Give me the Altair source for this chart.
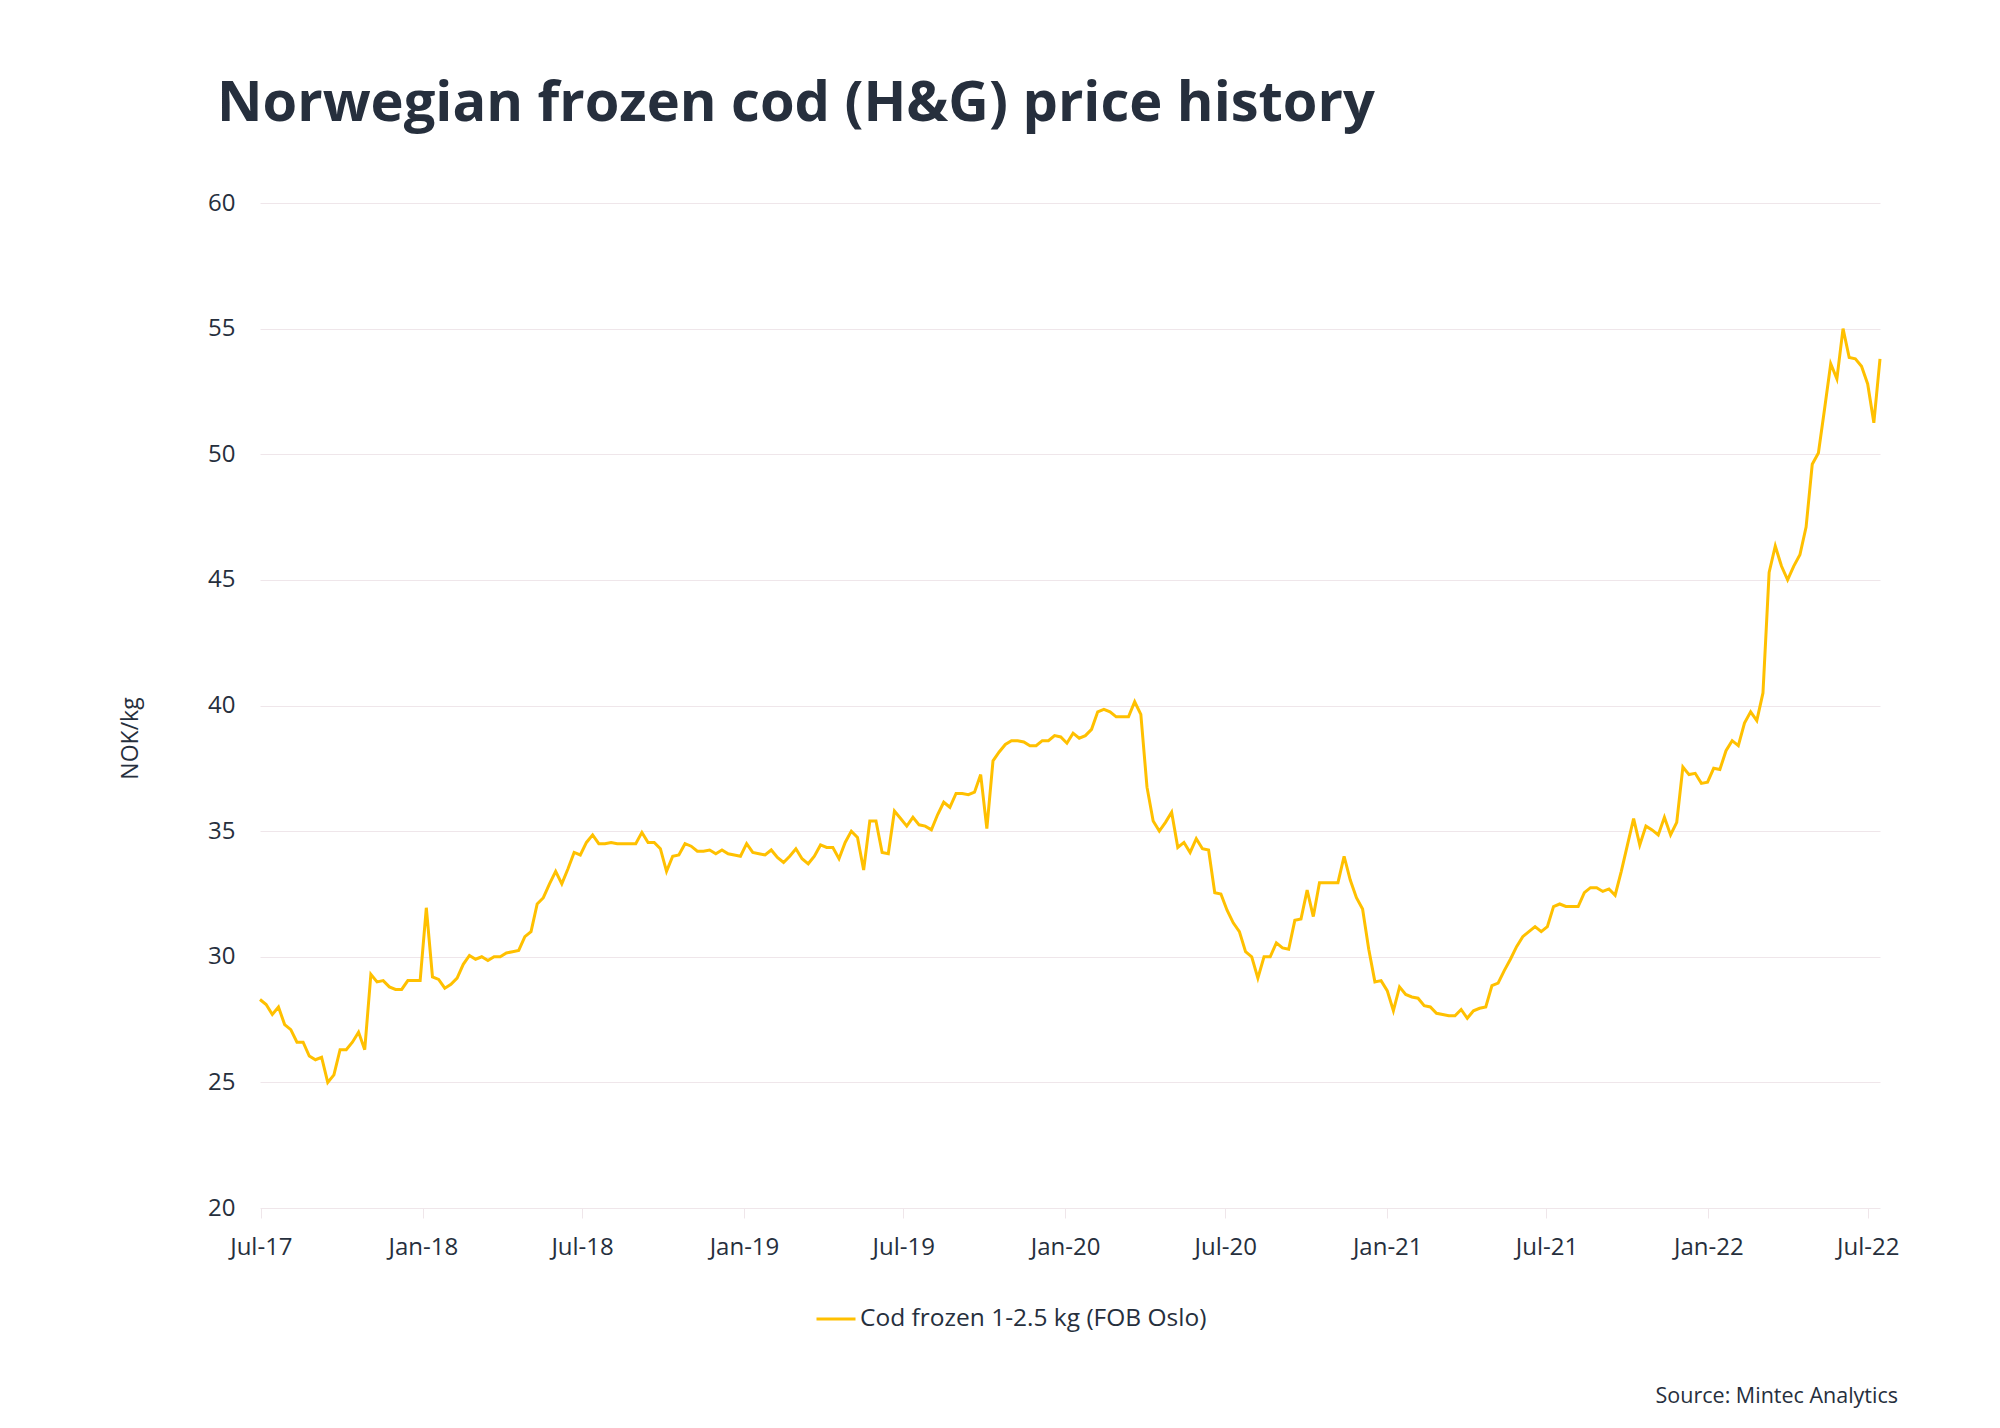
import altair as alt
import pandas as pd

TITLE = "Norwegian frozen cod (H&G) price history"
SERIES = "Cod frozen 1-2.5 kg (FOB Oslo)"
Y_TITLE = "NOK/kg"
SOURCE = "Source: Mintec Analytics"

START_DATE = "2017-06-30"   # weekly observations

prices = [
    28.3, 28.1, 27.7, 28.0, 27.3, 27.1, 26.6, 26.6, 26.05, 25.9,
    26.0, 25.0, 25.3, 26.3, 26.3, 26.6, 27.0, 26.3, 29.3, 29.0,
    29.05, 28.8, 28.7, 28.7, 29.05, 29.05, 29.05, 31.95, 29.2, 29.1,
    28.75, 28.9, 29.15, 29.7, 30.05, 29.9, 30.0, 29.85, 30.0, 30.0,
    30.15, 30.2, 30.25, 30.8, 31.0, 32.1, 32.35, 32.9, 33.4, 32.9,
    33.5, 34.15, 34.05,
    34.55, 34.85, 34.5, 34.5, 34.55, 34.5, 34.5, 34.5, 34.5, 34.95,
    34.55, 34.55, 34.3, 33.4, 34.0, 34.05, 34.5, 34.4, 34.2, 34.2,
    34.25, 34.1, 34.25, 34.1, 34.05, 34.0, 34.5, 34.15, 34.1, 34.05,
    34.25, 33.95, 33.75, 34.0, 34.3, 33.9, 33.7, 34.0, 34.45, 34.35,
    34.35, 33.9, 34.55, 35.0, 34.75, 33.45, 35.4, 35.4, 34.15, 34.1,
    35.8, 35.5, 35.2, 35.55, 35.25, 35.2, 35.05, 35.65, 36.15, 35.95,
    36.5, 36.5, 36.45, 36.55, 37.25, 35.1, 37.8, 38.15, 38.45, 38.6,
    38.6, 38.55, 38.4, 38.4, 38.6, 38.6, 38.8, 38.75, 38.5, 38.9,
    38.7, 38.8, 39.05, 39.75, 39.85, 39.75, 39.55, 39.55, 39.55, 40.15,
    39.65, 36.75, 35.4, 35.0, 35.35, 35.75, 34.35, 34.55, 34.15, 34.7,
    34.3, 34.25, 32.55, 32.5, 31.85, 31.35, 31.0, 30.2, 30.0, 29.15,
    30.0, 30.0, 30.55, 30.35, 30.3, 31.45, 31.5, 32.65, 31.6, 32.95,
    32.95, 32.95, 32.95, 34.0, 33.05, 32.35, 31.9, 30.3, 29.0, 29.05,
    28.65, 27.85, 28.8, 28.5, 28.4, 28.35, 28.05, 28.0, 27.75, 27.7,
    27.65, 27.65, 27.9, 27.55, 27.85, 27.95, 28.0, 28.85, 28.95, 29.45,
    29.9,
    30.4, 30.8, 31.0, 31.2, 31.0, 31.2, 32.0, 32.1, 32.0, 32.0,
    32.0, 32.55, 32.75, 32.75, 32.6, 32.7, 32.45, 33.4, 34.45, 35.5,
    34.45, 35.2, 35.05, 34.85, 35.55, 34.85, 35.35, 37.55, 37.25, 37.3,
    36.9, 36.95, 37.5, 37.45, 38.2, 38.6, 38.4, 39.3, 39.75, 39.4,
    40.5,
    45.3, 46.35, 45.55, 45.0, 45.55, 46.0, 47.1, 49.6, 50.05, 51.8,
    53.6, 53.0, 55.0, 53.85, 53.8, 53.5, 52.8, 51.25, 53.8,
]

y_ticks = [20, 25, 30, 35, 40, 45, 50, 55, 60]
x_tick_months = [(2017, 7), (2018, 1), (2018, 7), (2019, 1), (2019, 7), (2020, 1),
                 (2020, 7), (2021, 1), (2021, 7), (2022, 1), (2022, 7)]

dates = pd.date_range(START_DATE, periods=len(prices), freq="7D")
df = pd.DataFrame({"date": dates, "price": prices, "series": SERIES})

FONT = "Open Sans"
TEXT = "#262F3D"
GRID = "#EFE6EA"
LINE = "#FFC000"

x_values = [alt.DateTime(year=y, month=m, date=1) for y, m in x_tick_months]

line = alt.Chart(df).mark_line(strokeWidth=3).encode(
    x=alt.X(
        "date:T",
        scale=alt.Scale(domain=[alt.DateTime(year=2017, month=6, date=30),
                                alt.DateTime(year=2022, month=7, date=15)], nice=False),
        axis=alt.Axis(values=x_values, format="%b-%y", grid=False, domain=False,
                      ticks=True, tickColor=GRID, tickSize=10, labelFlush=False,
                      labelOverlap=False, labelFont=FONT, labelFontSize=24,
                      labelColor=TEXT, labelPadding=17, title=None),
    ),
    y=alt.Y(
        "price:Q",
        scale=alt.Scale(domain=[20, 60], nice=False, zero=False),
        axis=alt.Axis(values=y_ticks, grid=True, gridColor=GRID, gridWidth=1,
                      domain=False, ticks=False, labelFont=FONT, labelFontSize=24,
                      labelColor=TEXT, labelPadding=25, title=Y_TITLE,
                      titleFont=FONT, titleFontSize=23, titleFontWeight="normal",
                      titleColor=TEXT, titleX=-130, titleY=535,
                      titleAlign="center", titleBaseline="middle"),
    ),
    color=alt.Color(
        "series:N",
        scale=alt.Scale(domain=[SERIES], range=[LINE]),
        legend=alt.Legend(orient="none", legendX=555, legendY=1095, title=None,
                          symbolType="stroke", symbolSize=1521, symbolStrokeWidth=3,
                          labelFont=FONT, labelFontSize=24.5, labelColor=TEXT,
                          labelOffset=3, labelLimit=600),
    ),
)

source = alt.Chart(pd.DataFrame({"t": [SOURCE]})).mark_text(
    align="right", baseline="middle", font=FONT, fontSize=21.5, color=TEXT
).encode(text="t:N", x=alt.value(1638), y=alt.value(1194))

chart = alt.layer(line, source).properties(
    width=1620,
    height=1005,
    title=alt.TitleParams(TITLE, anchor="start", frame="group", font=FONT,
                          fontSize=56, fontWeight="bold", color=TEXT,
                          dx=-43, offset=14, baseline="alphabetic"),
    autosize=alt.AutoSizeParams(type="none"),
    padding={"left": 252, "top": 195, "right": 100, "bottom": 200},
    background="white",
).configure_view(stroke=None)

chart.save("out.html", embed_options={"renderer": "svg", "actions": False})
